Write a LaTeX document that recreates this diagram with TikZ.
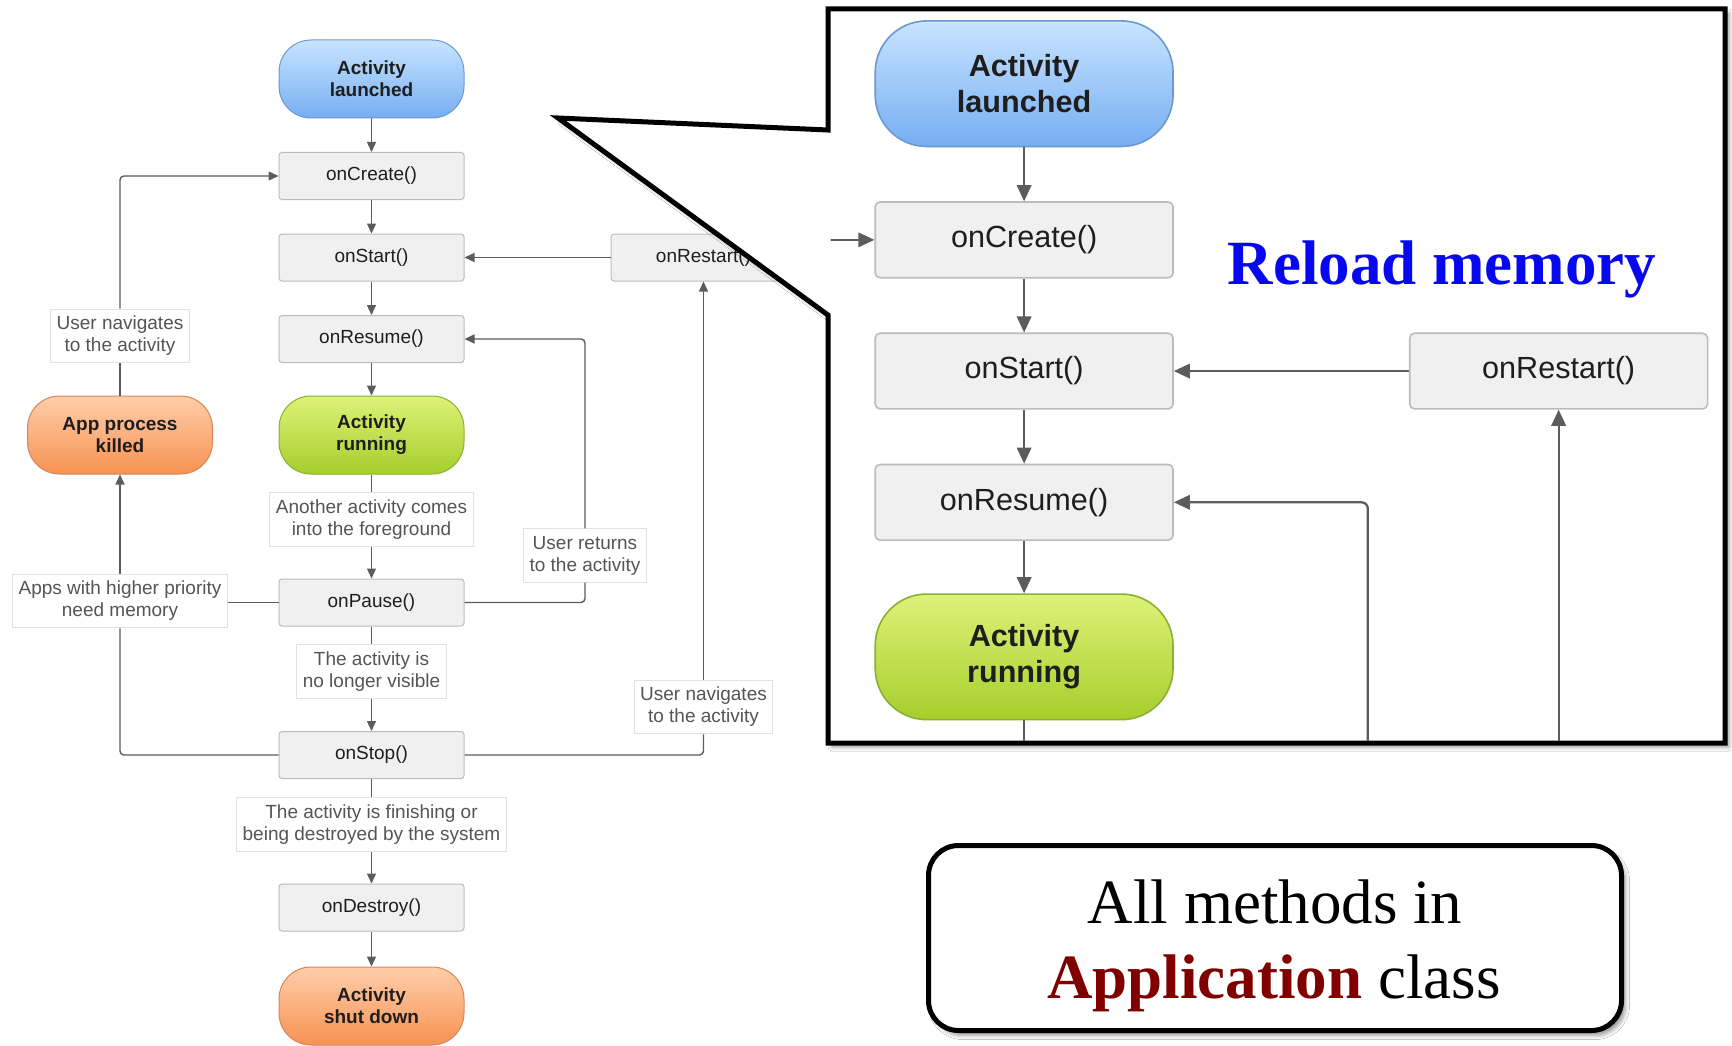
\documentclass[tikz,border=0pt]{standalone}
\usepackage{fontspec}
\setmainfont{Liberation Serif}
\newfontfamily\dsans{Liberation Sans}
\usetikzlibrary{arrows.meta,shadows.blur}

\definecolor{blueA}{RGB}{200,228,255}
\definecolor{blueB}{RGB}{118,174,242}
\definecolor{blueC}{RGB}{108,152,210}
\definecolor{greenA}{RGB}{222,242,120}
\definecolor{greenB}{RGB}{166,206,44}
\definecolor{greenC}{RGB}{140,176,52}
\definecolor{orangeA}{RGB}{255,206,170}
\definecolor{orangeB}{RGB}{247,146,82}
\definecolor{orangeC}{RGB}{210,136,92}
\definecolor{boxfill}{RGB}{240,240,240}
\definecolor{boxborder}{RGB}{188,188,188}
\definecolor{lblborder}{RGB}{226,226,226}
\definecolor{linegray}{RGB}{92,92,92}
\definecolor{textdark}{RGB}{30,30,30}
\definecolor{textgray}{RGB}{85,85,85}
\definecolor{appred}{RGB}{128,0,0}
\definecolor{reloadblue}{RGB}{8,8,240}

\tikzset{
  conn/.style={draw=linegray, line width=1.4pt},
  arr/.style={conn, -{Triangle[length=10pt,width=9pt]}},
  mbox/.style={draw=boxborder, fill=boxfill, line width=1pt, rounded corners=3pt,
    minimum width=185pt, minimum height=47pt, text=textdark,
    font=\dsans\fontsize{19}{22}\selectfont},
  stnode/.style={line width=1pt, rounded corners=32pt, minimum width=185pt,
    minimum height=78pt, align=center, text=textdark,
    font=\dsans\bfseries\fontsize{19}{22}\selectfont},
  lbox/.style={draw=lblborder, fill=white, line width=1pt, align=center,
    text=textgray, inner xsep=6pt, inner ysep=7pt,
    font=\dsans\fontsize{19}{22}\selectfont},
}

% the upper part of the lifecycle (shared by both views)
\newcommand{\lifecycletop}{%
  \node[stnode, top color=blueA, bottom color=blueB, draw=blueC] (launch) at (371.5,79) {Activity\\launched};
  \node[mbox] (create) at (371.5,176) {onCreate()};
  \node[mbox] (start) at (371.5,257.5) {onStart()};
  \node[mbox] (resume) at (371.5,339) {onResume()};
  \node[stnode, top color=greenA, bottom color=greenB, draw=greenC] (running) at (371.5,435) {Activity\\running};
  \node[mbox] (restart) at (703.5,257.5) {onRestart()};
  \draw[arr] (launch) -- (create);
  \draw[arr] (create) -- (start);
  \draw[arr] (start) -- (resume);
  \draw[arr] (resume) -- (running);
  \draw[arr] (restart) -- (start);
}

% the complete lifecycle
\newcommand{\lifecycle}{%
  \lifecycletop
  \node[lbox] (lanother) at (371.5,519.5) {Another activity comes\\into the foreground};
  \node[mbox] (pause) at (371.5,602.5) {onPause()};
  \node[lbox] (lnovis) at (371.5,671.5) {The activity is\\no longer visible};
  \node[mbox] (stop) at (371.5,755) {onStop()};
  \node[lbox] (lfinish) at (371.5,824.5) {The activity is finishing or\\being destroyed by the system};
  \node[mbox] (destroy) at (371.5,907.5) {onDestroy()};
  \node[stnode, top color=orangeA, bottom color=orangeB, draw=orangeC] (shut) at (371.5,1006) {Activity\\shut down};
  \node[stnode, top color=orangeA, bottom color=orangeB, draw=orangeC] (killed) at (120,435) {App process\\killed};
  \node[lbox] (lunavA) at (120,336) {User navigates\\to the activity};
  \node[lbox] (lapps) at (120,601) {Apps with higher priority\\need memory};
  \node[lbox] (luret) at (585,555.5) {User returns\\to the activity};
  \node[lbox] (lunavB) at (703.5,707) {User navigates\\to the activity};
  %
  \draw[conn] (running) -- (lanother);
  \draw[arr] (lanother) -- (pause);
  \draw[conn] (pause) -- (lnovis);
  \draw[arr] (lnovis) -- (stop);
  \draw[conn] (stop) -- (lfinish);
  \draw[arr] (lfinish) -- (destroy);
  \draw[arr] (destroy) -- (shut);
  \draw[conn] (killed) -- (lunavA);
  \draw[arr, rounded corners=4pt] (lunavA.north) |- (create.west);
  \draw[conn, rounded corners=4pt] (stop.west) -| (lapps.south);
  \draw[arr] (lapps) -- (killed);
  \draw[conn] (pause.west) -- (pause.west -| lapps.east);
  \draw[conn, rounded corners=4pt] (pause.east) -| (luret.south);
  \draw[arr, rounded corners=4pt] (luret.north) |- (resume.east);
  \draw[conn, rounded corners=4pt] (stop.east) -| (lunavB.south);
  \draw[arr] (lunavB) -- (restart);
}

% the magnified view: upper part plus the connector ends that reach into it
\newcommand{\lifecyclezoom}{%
  \lifecycletop
  \coordinate (zleft) at (240,176);
  \coordinate (zbelow) at (371.5,500);
  \coordinate (zuret) at (585,500);
  \coordinate (zunav) at (703.5,500);
  \draw[arr] (zleft) -- (create.west);
  \draw[conn] (running) -- (zbelow);
  \draw[arr, rounded corners=4pt] (zuret) |- (resume.east);
  \draw[arr] (zunav) -- (restart);
}

\begin{document}
\begin{tikzpicture}[x=1pt,y=-1pt]
\useasboundingbox[fill=white] (0,0) rectangle (1732,1046);
\lifecycle
% callout frame
\draw[line width=5pt, fill=white, line join=miter,
  blur shadow={shadow xshift=4pt, shadow yshift=-4pt, shadow blur radius=4pt}]
  (828,9) -- (1725,9) -- (1725,743) -- (828,743) -- (828,315) -- (558,118) -- (828,130) -- cycle;
% zoomed copy
\begin{scope}
  \clip (830.5,11.5) rectangle (1722.5,740.5);
  \begin{scope}[transform canvas={shift={(426,-43.5)},scale=1.61}]
    \lifecyclezoom
  \end{scope}
\end{scope}
\node[anchor=base, text=reloadblue, font=\bfseries\fontsize{63}{75}\selectfont] (reload) at (1442,284) {Reload memory};
% bottom box
\node[draw, line width=5pt, rounded corners=30pt, minimum width=693pt, minimum height=185pt,
  fill=white, blur shadow={shadow xshift=4pt, shadow yshift=-5pt, shadow blur radius=4pt}] (appbox) at (1275,938) {};
\node[anchor=base, font=\fontsize{63}{75}\selectfont] (tA) at (1275,923) {All methods in};
\node[anchor=base, font=\fontsize{63}{75}\selectfont] (tB) at (1274,998) {\textcolor{appred}{\bfseries Application} class};
\end{tikzpicture}
\end{document}
